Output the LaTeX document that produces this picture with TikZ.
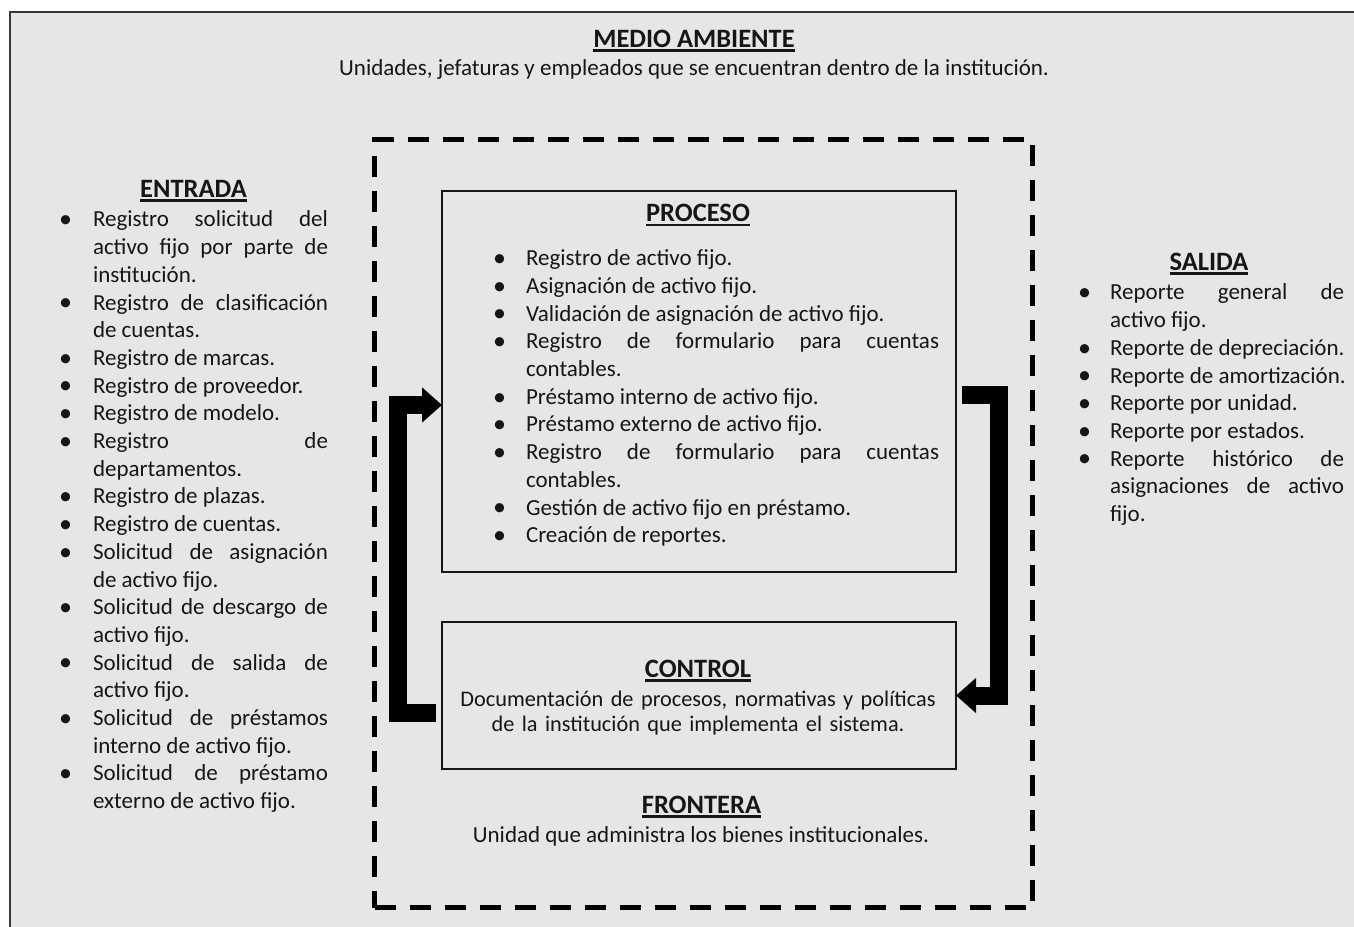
\documentclass[tikz,border=0pt]{standalone}
\usepackage{fontspec}
\setmainfont{Carlito}
\usetikzlibrary{arrows.meta}

\definecolor{bg}{RGB}{230,230,230}
\definecolor{ink}{RGB}{22,22,22}

% underlined bold heading
\newcommand\hdr[1]{\setbox0=\hbox{#1}\rlap{\vrule width\wd0 height -2.4pt depth 4.6pt}\box0}
% list bullet and bullet item with hanging indent
\newcommand\bul{\kern1pt\raisebox{-0.8pt}{\fontsize{26}{0}\selectfont\textbullet}}
\newlength\itmind
\newcommand\itm[1]{\hangindent=\itmind\hangafter=1\noindent\makebox[\itmind][l]{\bul}\strut#1\par}

\tikzset{
  txt/.style={inner sep=0pt, outer sep=0pt, text=ink, font=\fontsize{23}{27.7}\selectfont},
  head/.style={txt, anchor=base, font=\fontsize{26.5}{27.7}\selectfont\bfseries},
  listnode/.style={txt, anchor=north west, align=justify},
  sysbox/.style={draw=ink, line width=2.5pt, inner sep=0pt, outer sep=0pt, anchor=north west},
  limite/.style={draw=black, line width=5pt, dash pattern=on 21pt off 14pt, inner sep=0pt, anchor=north west},
  conn/.style={draw=black, line width=18pt, line join=miter, -{Triangle[width=34pt,length=20pt]}},
}

\begin{document}
\begin{tikzpicture}[x=1pt,y=-1pt]
\useasboundingbox (0,0) rectangle (1354,926);
\fill[white] (0,0) rectangle (1354,926);

% environment frame, running off the right and bottom edges
\begin{scope}
  \clip (0,0) rectangle (1354,926);
  \draw[draw=ink!85, fill=bg, line width=2.8pt] (10,12) rectangle (1380,960);
\end{scope}

% environment
\node[head] (mah) at (694,47) {\hdr{MEDIO AMBIENTE}};
\node[txt, anchor=base] (mat) at (694,75) {Unidades, jefaturas y empleados que se encuentran dentro de la institución.};

% system boundary
\node[limite, minimum width=658pt, minimum height=768pt] (lim) at (372,137) {};

% process and control boxes
\node[sysbox, minimum width=514pt, minimum height=381pt] (proceso) at (442,191) {};
\node[sysbox, minimum width=514pt, minimum height=147pt] (control) at (442,622) {};

% inputs
\node[head] (enh) at (193.5,197) {\hdr{ENTRADA}};
\node[listnode, text width=270pt] (ent) at (58,207.6) {%
  \hyphenpenalty=10000 \tolerance=9999 \hbadness=10000 \setlength\itmind{35pt}%
  \itm{Registro solicitud del\linebreak activo fijo por parte de\linebreak institución.}
  \itm{Registro de clasificación\linebreak de cuentas.}
  \itm{Registro de marcas.}
  \itm{Registro de proveedor.}
  \itm{Registro de modelo.}
  \itm{Registro de\linebreak departamentos.}
  \itm{Registro de plazas.}
  \itm{Registro de cuentas.}
  \itm{Solicitud de asignación\linebreak de activo fijo.}
  \itm{Solicitud de descargo de\linebreak activo fijo.}
  \itm{Solicitud de salida de\linebreak activo fijo.}
  \itm{Solicitud de préstamos\linebreak interno de activo fijo.}
  \itm{Solicitud de préstamo\linebreak externo de activo fijo.}};

% process
\node[head] (prh) at (698,221.5) {\hdr{PROCESO}};
\node[listnode, text width=447pt] (pro) at (492,246.4) {%
  \hyphenpenalty=10000 \tolerance=9999 \hbadness=10000 \setlength\itmind{34pt}%
  \itm{Registro de activo fijo.}
  \itm{Asignación de activo fijo.}
  \itm{Validación de asignación de activo fijo.}
  \itm{Registro de formulario para cuentas\linebreak contables.}
  \itm{Préstamo interno de activo fijo.}
  \itm{Préstamo externo de activo fijo.}
  \itm{Registro de formulario para cuentas\linebreak contables.}
  \itm{Gestión de activo fijo en préstamo.}
  \itm{Creación de reportes.}};

% outputs
\node[head] (sah) at (1209,270) {\hdr{SALIDA}};
\node[listnode, text width=267pt] (sal) at (1077,280.6) {%
  \hyphenpenalty=10000 \tolerance=9999 \hbadness=10000 \setlength\itmind{33pt}%
  \itm{Reporte general de\linebreak activo fijo.}
  \itm{\mbox{Reporte de depreciación.}}
  \itm{\mbox{Reporte de amortización.}}
  \itm{Reporte por unidad.}
  \itm{Reporte por estados.}
  \itm{Reporte histórico de\linebreak asignaciones de activo\linebreak fijo.}};

% control
\node[head] (coh) at (698,677) {\hdr{CONTROL}};
\node[txt, anchor=north, align=center, text width=500pt, font=\fontsize{22.3}{25.5}\selectfont] (cot) at (698,688.15)
  {\strut Documentación de procesos, normativas y políticas\\ de la institución que implementa el sistema.};

% boundary label
\node[head] (frh) at (701.5,813) {\hdr{FRONTERA}};
\node[txt, anchor=base] (frt) at (701,842) {Unidad que administra los bienes institucionales.};

% feedback loops between control and process
\coordinate (lout) at ([shift={(-6,17.5)}]control.west);
\draw[conn] (lout) -- ++(-38,0) |- ([yshift=-23.5pt]proceso.west);
\coordinate (rout) at ([shift={(6,13.5)}]proceso.east);
\draw[conn] (rout) -- ++(37,0) |- (control.east);
\end{tikzpicture}
\end{document}
